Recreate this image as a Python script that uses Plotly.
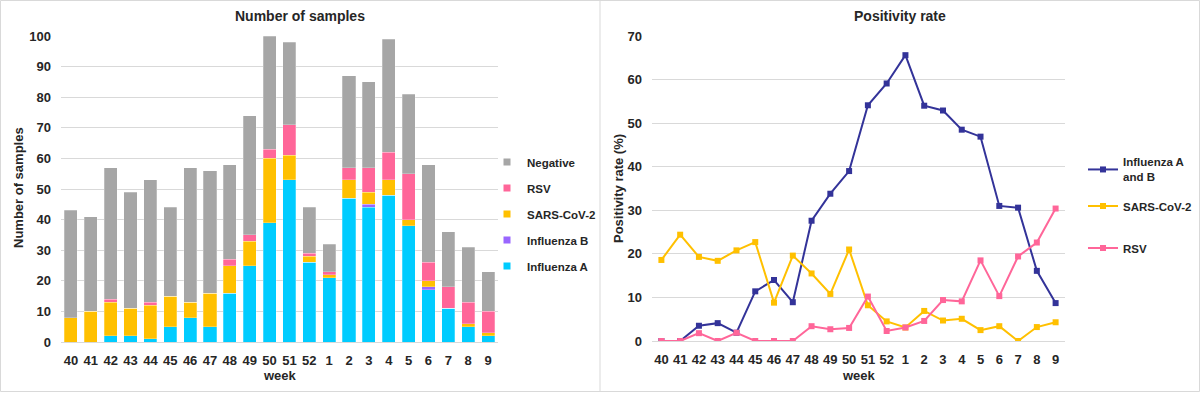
import plotly.graph_objects as go

weeks = ["40", "41", "42", "43", "44", "45", "46", "47", "48", "49", "50", "51",
         "52", "1", "2", "3", "4", "5", "6", "7", "8", "9"]

# Number of samples (stacked)
influenza_a = [0, 0, 2, 2, 1, 5, 8, 5, 16, 25, 39, 53, 26, 21, 47, 44, 48, 38, 17, 11, 5, 2]
influenza_b = [0, 0, 0, 0, 0, 0, 0, 0, 0, 0, 0, 0, 0, 0, 0, 1, 0, 0, 1, 0, 0, 0]
sars_cov_2 = [8, 10, 11, 9, 11, 10, 5, 11, 9, 8, 21, 8, 2, 1, 6, 4, 5, 2, 2, 0, 1, 1]
rsv = [0, 0, 1, 0, 1, 0, 0, 0, 2, 2, 3, 10, 1, 1, 4, 8, 9, 15, 6, 7, 7, 7]
negative = [35, 31, 43, 38, 40, 29, 44, 40, 31, 39, 37, 27, 15, 9, 30, 28, 37, 26, 32, 18, 18, 13]

# Positivity rate (%)
rate_flu = [0, 0, 3.5, 4.1, 1.9, 11.4, 14.0, 8.9, 27.6, 33.8, 39.0, 54.1,
            59.1, 65.6, 54.0, 52.9, 48.5, 46.9, 31.0, 30.6, 16.1, 8.7]
rate_sars = [18.6, 24.4, 19.3, 18.4, 20.8, 22.7, 8.8, 19.6, 15.5, 10.8, 21.0, 8.2,
             4.5, 3.1, 6.9, 4.7, 5.1, 2.5, 3.4, 0, 3.2, 4.3]
rate_rsv = [0, 0, 1.8, 0, 1.9, 0, 0, 0, 3.4, 2.7, 3.0, 10.2,
            2.3, 3.1, 4.6, 9.4, 9.1, 18.5, 10.3, 19.4, 22.6, 30.4]

C_FLUA = "#00CCFF"
C_FLUB = "#9966FF"
C_SARS = "#FFC000"
C_RSV = "#FF6699"
C_NEG = "#A6A6A6"
C_FLU_LINE = "#333399"
TXT = "#262626"
GRID = "#D9D9D9"
FONT = "Liberation Sans, Arial, sans-serif"

W, H = 1200, 393


def px_x(p):
    return p / W


def px_y(p):
    return 1 - p / H


fig = go.Figure()
legend_font = dict(family=FONT, size=11.5, color=TXT, weight="bold")
legends = {}

# stacked bars (bottom to top) and their legend entries (legend y centres in px)
bar_series = [
    ("Influenza A", influenza_a, C_FLUA, 266),
    ("Influenza B", influenza_b, C_FLUB, 240),
    ("SARS-CoV-2", sars_cov_2, C_SARS, 214),
    ("RSV", rsv, C_RSV, 188),
    ("Negative", negative, C_NEG, 162),
]
for i, (name, vals, col, ly) in enumerate(bar_series):
    lname = "legend" if i == 0 else f"legend{i + 1}"
    fig.add_trace(go.Bar(
        x=weeks, y=vals, name=name, showlegend=False,
        marker=dict(color=col, line=dict(color="rgba(255,255,255,0.5)", width=0.5)),
        xaxis="x", yaxis="y",
    ))
    fig.add_trace(go.Scatter(
        x=[None], y=[None], name=name, mode="markers",
        marker=dict(symbol="square", size=7, color=col),
        xaxis="x", yaxis="y", legend=lname, showlegend=True,
    ))
    legends[lname] = dict(
        x=px_x(487), y=px_y(ly), xanchor="left", yanchor="middle",
        font=legend_font, itemwidth=30, bgcolor="rgba(0,0,0,0)",
    )

line_series = [
    ("Influenza A<br>and B", rate_flu, C_FLU_LINE, 169.5),
    ("SARS-CoV-2", rate_sars, C_SARS, 206),
    ("RSV", rate_rsv, C_RSV, 248),
]
for j, (name, vals, col, ly) in enumerate(line_series):
    lname = f"legend{6 + j}"
    fig.add_trace(go.Scatter(
        x=weeks, y=vals, name=name, mode="lines+markers",
        line=dict(color=col, width=2), marker=dict(symbol="square", size=6, color=col),
        xaxis="x2", yaxis="y2", legend=lname,
    ))
    legends[lname] = dict(
        x=px_x(1083), y=px_y(ly), xanchor="left", yanchor="middle",
        font=legend_font, itemwidth=30, bgcolor="rgba(0,0,0,0)",
    )

axis_font = dict(family=FONT, size=13, color=TXT, weight="bold")
title_font = dict(family=FONT, size=13, color=TXT, weight="bold")

common_x = dict(
    type="category", categoryorder="array", categoryarray=weeks,
    showgrid=False, showline=True, linecolor=GRID, linewidth=1,
    ticks="", tickfont=axis_font, range=[-0.5, 21.5],
    ticklabelstandoff=6, zeroline=False, automargin=False,
)
common_y = dict(
    showgrid=True, gridcolor=GRID, gridwidth=1, zeroline=False, showline=False,
    ticks="", tickfont=axis_font, ticklabelstandoff=9, automargin=False,
)


def label(text, x, y, angle=0, size=13):
    return dict(text=text, x=px_x(x), y=px_y(y), xref="paper", yref="paper",
                showarrow=False, xanchor="center", yanchor="middle", textangle=angle,
                font=dict(family=FONT, size=size, color=TXT, weight="bold"))


fig.update_layout(
    width=W, height=H, autosize=False,
    margin=dict(l=0, r=0, t=0, b=0, pad=0, autoexpand=False),
    paper_bgcolor="white", plot_bgcolor="white",
    barmode="stack", bargap=0.34,
    font=dict(family=FONT, color=TXT),
    showlegend=True,
    xaxis=dict(domain=[px_x(61), px_x(498)], anchor="y", **common_x),
    yaxis=dict(domain=[px_y(342), px_y(36)], anchor="x", range=[0, 100], dtick=10, **common_y),
    xaxis2=dict(domain=[px_x(652), px_x(1065)], anchor="y2", **common_x),
    yaxis2=dict(domain=[px_y(341), px_y(36)], anchor="x2", range=[0, 70], dtick=10, **common_y),
    annotations=[
        label("Number of samples", 300, 16, size=14),
        label("Positivity rate", 900, 16, size=14),
        label("week", 279.5, 375),
        label("week", 858.5, 375),
        label("Number of samples", 18, 188, angle=-90),
        label("Positivity rate (%)", 618, 189, angle=-90),
    ],
    shapes=[
        dict(type="rect", xref="paper", yref="paper", x0=px_x(0.5), x1=px_x(1199.5),
             y0=px_y(391.5), y1=px_y(0.5), line=dict(color=GRID, width=1)),
        dict(type="line", xref="paper", yref="paper", x0=px_x(600), x1=px_x(600),
             y0=px_y(391.5), y1=px_y(0.5), line=dict(color=GRID, width=1)),
    ],
    **legends,
)

post = (
    "var st=document.createElement('style');"
    "st.textContent='html,body{margin:0!important;padding:0!important;overflow:hidden;}';"
    "document.head.appendChild(st);"
    "var gd=document.getElementById('{plot_id}');"
    "gd.style.position='fixed';gd.style.left='0px';gd.style.top='0px';"
    "Plotly.relayout(gd,{width:1200,height:393});"
)
fig.write_html("out.html", config={"displayModeBar": False, "responsive": False},
               post_script=post)
